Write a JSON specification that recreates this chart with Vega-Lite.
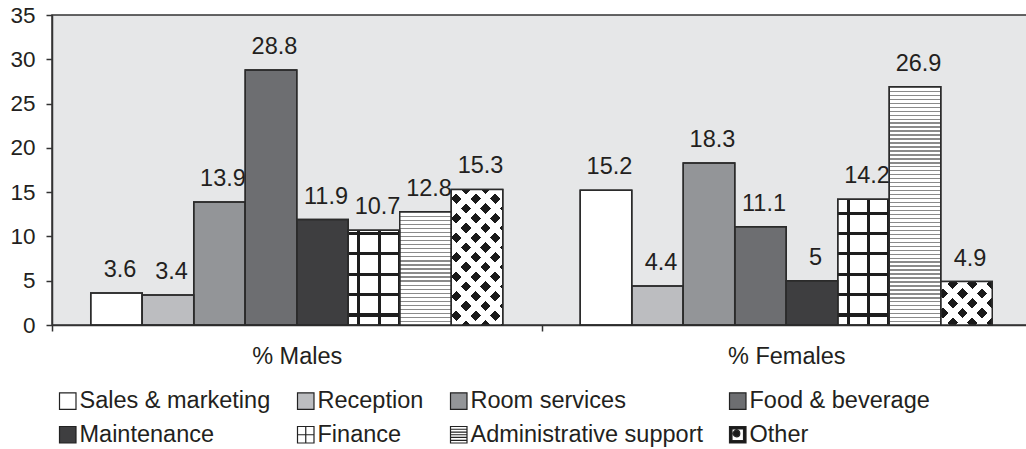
{
  "$schema": "https://vega.github.io/schema/vega-lite/v6.json",
  "width": 979,
  "height": 310,
  "autosize": {"type": "none"},
  "padding": {"left": 52, "top": 15, "right": -5, "bottom": 124},
  "background": "#ffffff",
  "config": {
    "font": "Liberation Sans",
    "view": {"fill": "#e6e7e8", "stroke": "#333333", "strokeWidth": 1.5},
    "axis": {"domainColor": "#333333", "domainWidth": 1.5, "tickColor": "#333333", "tickWidth": 1.5, "tickSize": 6, "labelColor": "#231f20", "labelFont": "Liberation Sans", "grid": false, "title": null}
  },
  "data": {
    "values": [
      {"group": "% Males", "category": "Sales & marketing", "value": 3.6},
      {"group": "% Males", "category": "Reception", "value": 3.4},
      {"group": "% Males", "category": "Room services", "value": 13.9},
      {"group": "% Males", "category": "Food & beverage", "value": 28.8},
      {"group": "% Males", "category": "Maintenance", "value": 11.9},
      {"group": "% Males", "category": "Finance", "value": 10.7},
      {"group": "% Males", "category": "Administrative support", "value": 12.8},
      {"group": "% Males", "category": "Other", "value": 15.3},
      {"group": "% Females", "category": "Sales & marketing", "value": 15.2},
      {"group": "% Females", "category": "Reception", "value": 4.4},
      {"group": "% Females", "category": "Room services", "value": 18.3},
      {"group": "% Females", "category": "Food & beverage", "value": 11.1},
      {"group": "% Females", "category": "Maintenance", "value": 5},
      {"group": "% Females", "category": "Finance", "value": 14.2},
      {"group": "% Females", "category": "Administrative support", "value": 26.9},
      {"group": "% Females", "category": "Other", "value": 4.9}
    ]
  },
  "encoding": {
    "x": {"field": "group", "type": "nominal", "scale": {"domain": ["% Males", "% Females"], "paddingInner": 0, "paddingOuter": 0},
      "axis": {"labelAngle": 0, "labelFontSize": 23.5, "labelPadding": 13, "tickBand": "extent"}},
    "xOffset": {"field": "category", "type": "nominal", "scale": {"domain": ["Sales & marketing", "Reception", "Room services", "Food & beverage", "Maintenance", "Finance", "Administrative support", "Other"], "paddingInner": 0, "paddingOuter": 0.7524}},
    "y": {"field": "value", "type": "quantitative", "scale": {"domain": [0, 35], "nice": false},
      "axis": {"values": [0, 5, 10, 15, 20, 25, 30, 35], "labelFontSize": 22.5, "labelPadding": 11}}
  },
  "layer": [
    {
      "mark": {"type": "point", "filled": true, "opacity": 1, "size": 272, "stroke": "#222222", "strokeWidth": 1.2, "yOffset": -10},
      "encoding": {
        "y": {"datum": 0},
        "color": {"field": "category", "type": "nominal", "title": null,
          "scale": {"domain": ["Sales & marketing", "Reception", "Room services", "Food & beverage", "Maintenance", "Finance", "Administrative support", "Other"],
            "range": ["#ffffff", "#bcbdc0", "#939598", "#6d6e71", "#3e3e40", "#ffffff", "#ffffff", "#1a1a1a"]},
          "legend": {"orient": "none", "legendX": 4, "legendY": 374, "direction": "horizontal", "columns": 4, "title": null, "labelFontSize": 23.5, "labelColor": "#231f20", "labelFont": "Liberation Sans", "labelOffset": 0, "columnPadding": 23, "rowPadding": 9, "symbolSize": 272, "symbolStrokeWidth": 1.2, "symbolStrokeColor": "#222222", "labelLimit": 0}},
        "shape": {"field": "category", "type": "nominal", "title": null,
          "scale": {"domain": ["Sales & marketing", "Reception", "Room services", "Food & beverage", "Maintenance", "Finance", "Administrative support", "Other"],
            "range": ["M-1,-1H1V1H-1Z", "M-1,-1H1V1H-1Z", "M-1,-1H1V1H-1Z", "M-1,-1H1V1H-1Z", "M-1,-1H1V1H-1Z", "M-1,-1H1V1H-1ZM0,-1V1M-1,0H1", "M-1,-1H1V1H-1ZM-1,-0.67H1M-1,-0.33H1M-1,0H1M-1,0.33H1M-1,0.67H1", "M-1,-1H1V1H-1ZM-0.7,-0.7V0.7H0.7V-0.7ZM-0.55,-0.15A0.4,0.4 0 1,1 0.25,-0.15A0.4,0.4 0 1,1 -0.55,-0.15Z"]},
          "legend": {"orient": "none", "legendX": 4, "legendY": 374, "direction": "horizontal", "columns": 4, "title": null, "labelFontSize": 23.5, "labelColor": "#231f20", "labelFont": "Liberation Sans", "labelOffset": 0, "columnPadding": 23, "rowPadding": 9, "symbolSize": 272, "symbolStrokeWidth": 1.2, "symbolStrokeColor": "#222222", "labelLimit": 0}}
      }
    },
    {
      "mark": {"type": "bar", "stroke": "#2b2b2b", "strokeWidth": 1.5},
      "encoding": {
        "fill": {"field": "category", "type": "nominal", "legend": null,
          "scale": {"domain": ["Sales & marketing", "Reception", "Room services", "Food & beverage", "Maintenance", "Finance", "Administrative support", "Other"],
            "range": ["#ffffff", "#bcbdc0", "#939598", "#6d6e71", "#3e3e40", "#ffffff", "#ffffff", "#1a1a1a"]}}
      }
    },
    {
      "transform": [{"filter": {"field": "category", "equal": "Finance"}}],
      "mark": {"type": "bar", "strokeWidth": 0, "fill": {"gradient": "linear", "x1": 0, "y1": 0, "x2": 1, "y2": 0, "stops": [
        {"offset": 0, "color": "rgba(0,0,0,0)"}, {"offset": 0.17, "color": "rgba(0,0,0,0)"}, {"offset": 0.17, "color": "#1e1e1e"}, {"offset": 0.23, "color": "#1e1e1e"},
        {"offset": 0.23, "color": "rgba(0,0,0,0)"}, {"offset": 0.57, "color": "rgba(0,0,0,0)"}, {"offset": 0.57, "color": "#1e1e1e"}, {"offset": 0.63, "color": "#1e1e1e"},
        {"offset": 0.63, "color": "rgba(0,0,0,0)"}, {"offset": 0.965, "color": "rgba(0,0,0,0)"}, {"offset": 0.965, "color": "#1e1e1e"}, {"offset": 1, "color": "#1e1e1e"}]}}
    },
    {
      "transform": [{"filter": {"and": [{"field": "category", "equal": "Finance"}, {"field": "group", "equal": "% Males"}]}}],
      "mark": {"type": "bar", "strokeWidth": 0, "fill": {"gradient": "linear", "x1": 0, "y1": 0, "x2": 0, "y2": 1, "stops": [
        {"offset": 0, "color": "rgba(0,0,0,0)"}, {"offset": 0.018, "color": "rgba(0,0,0,0)"}, {"offset": 0.018, "color": "#1e1e1e"}, {"offset": 0.05, "color": "#1e1e1e"},
        {"offset": 0.05, "color": "rgba(0,0,0,0)"}, {"offset": 0.233, "color": "rgba(0,0,0,0)"}, {"offset": 0.233, "color": "#1e1e1e"}, {"offset": 0.265, "color": "#1e1e1e"},
        {"offset": 0.265, "color": "rgba(0,0,0,0)"}, {"offset": 0.448, "color": "rgba(0,0,0,0)"}, {"offset": 0.448, "color": "#1e1e1e"}, {"offset": 0.48, "color": "#1e1e1e"},
        {"offset": 0.48, "color": "rgba(0,0,0,0)"}, {"offset": 0.663, "color": "rgba(0,0,0,0)"}, {"offset": 0.663, "color": "#1e1e1e"}, {"offset": 0.695, "color": "#1e1e1e"},
        {"offset": 0.695, "color": "rgba(0,0,0,0)"}, {"offset": 0.8785, "color": "rgba(0,0,0,0)"}, {"offset": 0.8785, "color": "#1e1e1e"}, {"offset": 0.9105, "color": "#1e1e1e"},
        {"offset": 0.9105, "color": "rgba(0,0,0,0)"}, {"offset": 1, "color": "rgba(0,0,0,0)"}]}}
    },
    {
      "transform": [{"filter": {"and": [{"field": "category", "equal": "Finance"}, {"field": "group", "equal": "% Females"}]}}],
      "mark": {"type": "bar", "strokeWidth": 0, "fill": {"gradient": "linear", "x1": 0, "y1": 0, "x2": 0, "y2": 1, "stops": [
        {"offset": 0, "color": "rgba(0,0,0,0)"}, {"offset": 0.0977, "color": "rgba(0,0,0,0)"}, {"offset": 0.0977, "color": "#1e1e1e"}, {"offset": 0.1217, "color": "#1e1e1e"},
        {"offset": 0.1217, "color": "rgba(0,0,0,0)"}, {"offset": 0.2599, "color": "rgba(0,0,0,0)"}, {"offset": 0.2599, "color": "#1e1e1e"}, {"offset": 0.2839, "color": "#1e1e1e"},
        {"offset": 0.2839, "color": "rgba(0,0,0,0)"}, {"offset": 0.422, "color": "rgba(0,0,0,0)"}, {"offset": 0.422, "color": "#1e1e1e"}, {"offset": 0.446, "color": "#1e1e1e"},
        {"offset": 0.446, "color": "rgba(0,0,0,0)"}, {"offset": 0.5842, "color": "rgba(0,0,0,0)"}, {"offset": 0.5842, "color": "#1e1e1e"}, {"offset": 0.6082, "color": "#1e1e1e"},
        {"offset": 0.6082, "color": "rgba(0,0,0,0)"}, {"offset": 0.7464, "color": "rgba(0,0,0,0)"}, {"offset": 0.7464, "color": "#1e1e1e"}, {"offset": 0.7704, "color": "#1e1e1e"},
        {"offset": 0.7704, "color": "rgba(0,0,0,0)"}, {"offset": 0.9085, "color": "rgba(0,0,0,0)"}, {"offset": 0.9085, "color": "#1e1e1e"}, {"offset": 0.9325, "color": "#1e1e1e"},
        {"offset": 0.9325, "color": "rgba(0,0,0,0)"}, {"offset": 1, "color": "rgba(0,0,0,0)"}]}}
    },
    {
      "transform": [{"filter": {"and": [{"field": "category", "equal": "Administrative support"}, {"field": "group", "equal": "% Males"}]}}],
      "mark": {"type": "bar", "strokeWidth": 0, "fill": {"gradient": "linear", "x1": 0, "y1": 0, "x2": 0, "y2": 1, "stops": [
        {"offset": 0, "color": "#8a8a8a"}, {"offset": 0.0115, "color": "#8a8a8a"}, {"offset": 0.0115, "color": "#ffffff"}, {"offset": 0.0357, "color": "#ffffff"},
        {"offset": 0.0357, "color": "#8a8a8a"}, {"offset": 0.0472, "color": "#8a8a8a"}, {"offset": 0.0472, "color": "#ffffff"}, {"offset": 0.0714, "color": "#ffffff"},
        {"offset": 0.0714, "color": "#8a8a8a"}, {"offset": 0.0829, "color": "#8a8a8a"}, {"offset": 0.0829, "color": "#ffffff"}, {"offset": 0.1071, "color": "#ffffff"},
        {"offset": 0.1071, "color": "#8a8a8a"}, {"offset": 0.1186, "color": "#8a8a8a"}, {"offset": 0.1186, "color": "#ffffff"}, {"offset": 0.1429, "color": "#ffffff"},
        {"offset": 0.1429, "color": "#8a8a8a"}, {"offset": 0.1544, "color": "#8a8a8a"}, {"offset": 0.1544, "color": "#ffffff"}, {"offset": 0.1786, "color": "#ffffff"},
        {"offset": 0.1786, "color": "#8a8a8a"}, {"offset": 0.1901, "color": "#8a8a8a"}, {"offset": 0.1901, "color": "#ffffff"}, {"offset": 0.2143, "color": "#ffffff"},
        {"offset": 0.2143, "color": "#8a8a8a"}, {"offset": 0.2258, "color": "#8a8a8a"}, {"offset": 0.2258, "color": "#ffffff"}, {"offset": 0.25, "color": "#ffffff"},
        {"offset": 0.25, "color": "#8a8a8a"}, {"offset": 0.2615, "color": "#8a8a8a"}, {"offset": 0.2615, "color": "#ffffff"}, {"offset": 0.2857, "color": "#ffffff"},
        {"offset": 0.2857, "color": "#8a8a8a"}, {"offset": 0.2972, "color": "#8a8a8a"}, {"offset": 0.2972, "color": "#ffffff"}, {"offset": 0.3214, "color": "#ffffff"},
        {"offset": 0.3214, "color": "#8a8a8a"}, {"offset": 0.3329, "color": "#8a8a8a"}, {"offset": 0.3329, "color": "#ffffff"}, {"offset": 0.3571, "color": "#ffffff"},
        {"offset": 0.3571, "color": "#8a8a8a"}, {"offset": 0.3686, "color": "#8a8a8a"}, {"offset": 0.3686, "color": "#ffffff"}, {"offset": 0.3929, "color": "#ffffff"},
        {"offset": 0.3929, "color": "#8a8a8a"}, {"offset": 0.4044, "color": "#8a8a8a"}, {"offset": 0.4044, "color": "#ffffff"}, {"offset": 0.4286, "color": "#ffffff"},
        {"offset": 0.4286, "color": "#8a8a8a"}, {"offset": 0.4401, "color": "#8a8a8a"}, {"offset": 0.4401, "color": "#ffffff"}, {"offset": 0.4643, "color": "#ffffff"},
        {"offset": 0.4643, "color": "#8a8a8a"}, {"offset": 0.4758, "color": "#8a8a8a"}, {"offset": 0.4758, "color": "#ffffff"}, {"offset": 0.5, "color": "#ffffff"},
        {"offset": 0.5, "color": "#8a8a8a"}, {"offset": 0.5115, "color": "#8a8a8a"}, {"offset": 0.5115, "color": "#ffffff"}, {"offset": 0.5357, "color": "#ffffff"},
        {"offset": 0.5357, "color": "#8a8a8a"}, {"offset": 0.5472, "color": "#8a8a8a"}, {"offset": 0.5472, "color": "#ffffff"}, {"offset": 0.5714, "color": "#ffffff"},
        {"offset": 0.5714, "color": "#8a8a8a"}, {"offset": 0.5829, "color": "#8a8a8a"}, {"offset": 0.5829, "color": "#ffffff"}, {"offset": 0.6071, "color": "#ffffff"},
        {"offset": 0.6071, "color": "#8a8a8a"}, {"offset": 0.6186, "color": "#8a8a8a"}, {"offset": 0.6186, "color": "#ffffff"}, {"offset": 0.6429, "color": "#ffffff"},
        {"offset": 0.6429, "color": "#8a8a8a"}, {"offset": 0.6544, "color": "#8a8a8a"}, {"offset": 0.6544, "color": "#ffffff"}, {"offset": 0.6786, "color": "#ffffff"},
        {"offset": 0.6786, "color": "#8a8a8a"}, {"offset": 0.6901, "color": "#8a8a8a"}, {"offset": 0.6901, "color": "#ffffff"}, {"offset": 0.7143, "color": "#ffffff"},
        {"offset": 0.7143, "color": "#8a8a8a"}, {"offset": 0.7258, "color": "#8a8a8a"}, {"offset": 0.7258, "color": "#ffffff"}, {"offset": 0.75, "color": "#ffffff"},
        {"offset": 0.75, "color": "#8a8a8a"}, {"offset": 0.7615, "color": "#8a8a8a"}, {"offset": 0.7615, "color": "#ffffff"}, {"offset": 0.7857, "color": "#ffffff"},
        {"offset": 0.7857, "color": "#8a8a8a"}, {"offset": 0.7972, "color": "#8a8a8a"}, {"offset": 0.7972, "color": "#ffffff"}, {"offset": 0.8214, "color": "#ffffff"},
        {"offset": 0.8214, "color": "#8a8a8a"}, {"offset": 0.8329, "color": "#8a8a8a"}, {"offset": 0.8329, "color": "#ffffff"}, {"offset": 0.8571, "color": "#ffffff"},
        {"offset": 0.8571, "color": "#8a8a8a"}, {"offset": 0.8686, "color": "#8a8a8a"}, {"offset": 0.8686, "color": "#ffffff"}, {"offset": 0.8929, "color": "#ffffff"},
        {"offset": 0.8929, "color": "#8a8a8a"}, {"offset": 0.9044, "color": "#8a8a8a"}, {"offset": 0.9044, "color": "#ffffff"}, {"offset": 0.9286, "color": "#ffffff"},
        {"offset": 0.9286, "color": "#8a8a8a"}, {"offset": 0.9401, "color": "#8a8a8a"}, {"offset": 0.9401, "color": "#ffffff"}, {"offset": 0.9643, "color": "#ffffff"},
        {"offset": 0.9643, "color": "#8a8a8a"}, {"offset": 0.9758, "color": "#8a8a8a"}, {"offset": 0.9758, "color": "#ffffff"}, {"offset": 1, "color": "#ffffff"}]}}
    },
    {
      "transform": [{"filter": {"and": [{"field": "category", "equal": "Administrative support"}, {"field": "group", "equal": "% Females"}]}}],
      "mark": {"type": "bar", "strokeWidth": 0, "fill": {"gradient": "linear", "x1": 0, "y1": 0, "x2": 0, "y2": 1, "stops": [
        {"offset": 0, "color": "#8a8a8a"}, {"offset": 0.0055, "color": "#8a8a8a"}, {"offset": 0.0055, "color": "#ffffff"}, {"offset": 0.0167, "color": "#ffffff"},
        {"offset": 0.0167, "color": "#8a8a8a"}, {"offset": 0.0222, "color": "#8a8a8a"}, {"offset": 0.0222, "color": "#ffffff"}, {"offset": 0.0333, "color": "#ffffff"},
        {"offset": 0.0333, "color": "#8a8a8a"}, {"offset": 0.0388, "color": "#8a8a8a"}, {"offset": 0.0388, "color": "#ffffff"}, {"offset": 0.05, "color": "#ffffff"},
        {"offset": 0.05, "color": "#8a8a8a"}, {"offset": 0.0555, "color": "#8a8a8a"}, {"offset": 0.0555, "color": "#ffffff"}, {"offset": 0.0667, "color": "#ffffff"},
        {"offset": 0.0667, "color": "#8a8a8a"}, {"offset": 0.0722, "color": "#8a8a8a"}, {"offset": 0.0722, "color": "#ffffff"}, {"offset": 0.0833, "color": "#ffffff"},
        {"offset": 0.0833, "color": "#8a8a8a"}, {"offset": 0.0888, "color": "#8a8a8a"}, {"offset": 0.0888, "color": "#ffffff"}, {"offset": 0.1, "color": "#ffffff"},
        {"offset": 0.1, "color": "#8a8a8a"}, {"offset": 0.1055, "color": "#8a8a8a"}, {"offset": 0.1055, "color": "#ffffff"}, {"offset": 0.1167, "color": "#ffffff"},
        {"offset": 0.1167, "color": "#8a8a8a"}, {"offset": 0.1222, "color": "#8a8a8a"}, {"offset": 0.1222, "color": "#ffffff"}, {"offset": 0.1333, "color": "#ffffff"},
        {"offset": 0.1333, "color": "#8a8a8a"}, {"offset": 0.1388, "color": "#8a8a8a"}, {"offset": 0.1388, "color": "#ffffff"}, {"offset": 0.15, "color": "#ffffff"},
        {"offset": 0.15, "color": "#8a8a8a"}, {"offset": 0.1555, "color": "#8a8a8a"}, {"offset": 0.1555, "color": "#ffffff"}, {"offset": 0.1667, "color": "#ffffff"},
        {"offset": 0.1667, "color": "#8a8a8a"}, {"offset": 0.1722, "color": "#8a8a8a"}, {"offset": 0.1722, "color": "#ffffff"}, {"offset": 0.1833, "color": "#ffffff"},
        {"offset": 0.1833, "color": "#8a8a8a"}, {"offset": 0.1888, "color": "#8a8a8a"}, {"offset": 0.1888, "color": "#ffffff"}, {"offset": 0.2, "color": "#ffffff"},
        {"offset": 0.2, "color": "#8a8a8a"}, {"offset": 0.2055, "color": "#8a8a8a"}, {"offset": 0.2055, "color": "#ffffff"}, {"offset": 0.2167, "color": "#ffffff"},
        {"offset": 0.2167, "color": "#8a8a8a"}, {"offset": 0.2222, "color": "#8a8a8a"}, {"offset": 0.2222, "color": "#ffffff"}, {"offset": 0.2333, "color": "#ffffff"},
        {"offset": 0.2333, "color": "#8a8a8a"}, {"offset": 0.2388, "color": "#8a8a8a"}, {"offset": 0.2388, "color": "#ffffff"}, {"offset": 0.25, "color": "#ffffff"},
        {"offset": 0.25, "color": "#8a8a8a"}, {"offset": 0.2555, "color": "#8a8a8a"}, {"offset": 0.2555, "color": "#ffffff"}, {"offset": 0.2667, "color": "#ffffff"},
        {"offset": 0.2667, "color": "#8a8a8a"}, {"offset": 0.2722, "color": "#8a8a8a"}, {"offset": 0.2722, "color": "#ffffff"}, {"offset": 0.2833, "color": "#ffffff"},
        {"offset": 0.2833, "color": "#8a8a8a"}, {"offset": 0.2888, "color": "#8a8a8a"}, {"offset": 0.2888, "color": "#ffffff"}, {"offset": 0.3, "color": "#ffffff"},
        {"offset": 0.3, "color": "#8a8a8a"}, {"offset": 0.3055, "color": "#8a8a8a"}, {"offset": 0.3055, "color": "#ffffff"}, {"offset": 0.3167, "color": "#ffffff"},
        {"offset": 0.3167, "color": "#8a8a8a"}, {"offset": 0.3222, "color": "#8a8a8a"}, {"offset": 0.3222, "color": "#ffffff"}, {"offset": 0.3333, "color": "#ffffff"},
        {"offset": 0.3333, "color": "#8a8a8a"}, {"offset": 0.3388, "color": "#8a8a8a"}, {"offset": 0.3388, "color": "#ffffff"}, {"offset": 0.35, "color": "#ffffff"},
        {"offset": 0.35, "color": "#8a8a8a"}, {"offset": 0.3555, "color": "#8a8a8a"}, {"offset": 0.3555, "color": "#ffffff"}, {"offset": 0.3667, "color": "#ffffff"},
        {"offset": 0.3667, "color": "#8a8a8a"}, {"offset": 0.3722, "color": "#8a8a8a"}, {"offset": 0.3722, "color": "#ffffff"}, {"offset": 0.3833, "color": "#ffffff"},
        {"offset": 0.3833, "color": "#8a8a8a"}, {"offset": 0.3888, "color": "#8a8a8a"}, {"offset": 0.3888, "color": "#ffffff"}, {"offset": 0.4, "color": "#ffffff"},
        {"offset": 0.4, "color": "#8a8a8a"}, {"offset": 0.4055, "color": "#8a8a8a"}, {"offset": 0.4055, "color": "#ffffff"}, {"offset": 0.4167, "color": "#ffffff"},
        {"offset": 0.4167, "color": "#8a8a8a"}, {"offset": 0.4222, "color": "#8a8a8a"}, {"offset": 0.4222, "color": "#ffffff"}, {"offset": 0.4333, "color": "#ffffff"},
        {"offset": 0.4333, "color": "#8a8a8a"}, {"offset": 0.4388, "color": "#8a8a8a"}, {"offset": 0.4388, "color": "#ffffff"}, {"offset": 0.45, "color": "#ffffff"},
        {"offset": 0.45, "color": "#8a8a8a"}, {"offset": 0.4555, "color": "#8a8a8a"}, {"offset": 0.4555, "color": "#ffffff"}, {"offset": 0.4667, "color": "#ffffff"},
        {"offset": 0.4667, "color": "#8a8a8a"}, {"offset": 0.4722, "color": "#8a8a8a"}, {"offset": 0.4722, "color": "#ffffff"}, {"offset": 0.4833, "color": "#ffffff"},
        {"offset": 0.4833, "color": "#8a8a8a"}, {"offset": 0.4888, "color": "#8a8a8a"}, {"offset": 0.4888, "color": "#ffffff"}, {"offset": 0.5, "color": "#ffffff"},
        {"offset": 0.5, "color": "#8a8a8a"}, {"offset": 0.5055, "color": "#8a8a8a"}, {"offset": 0.5055, "color": "#ffffff"}, {"offset": 0.5167, "color": "#ffffff"},
        {"offset": 0.5167, "color": "#8a8a8a"}, {"offset": 0.5222, "color": "#8a8a8a"}, {"offset": 0.5222, "color": "#ffffff"}, {"offset": 0.5333, "color": "#ffffff"},
        {"offset": 0.5333, "color": "#8a8a8a"}, {"offset": 0.5388, "color": "#8a8a8a"}, {"offset": 0.5388, "color": "#ffffff"}, {"offset": 0.55, "color": "#ffffff"},
        {"offset": 0.55, "color": "#8a8a8a"}, {"offset": 0.5555, "color": "#8a8a8a"}, {"offset": 0.5555, "color": "#ffffff"}, {"offset": 0.5667, "color": "#ffffff"},
        {"offset": 0.5667, "color": "#8a8a8a"}, {"offset": 0.5722, "color": "#8a8a8a"}, {"offset": 0.5722, "color": "#ffffff"}, {"offset": 0.5833, "color": "#ffffff"},
        {"offset": 0.5833, "color": "#8a8a8a"}, {"offset": 0.5888, "color": "#8a8a8a"}, {"offset": 0.5888, "color": "#ffffff"}, {"offset": 0.6, "color": "#ffffff"},
        {"offset": 0.6, "color": "#8a8a8a"}, {"offset": 0.6055, "color": "#8a8a8a"}, {"offset": 0.6055, "color": "#ffffff"}, {"offset": 0.6167, "color": "#ffffff"},
        {"offset": 0.6167, "color": "#8a8a8a"}, {"offset": 0.6222, "color": "#8a8a8a"}, {"offset": 0.6222, "color": "#ffffff"}, {"offset": 0.6333, "color": "#ffffff"},
        {"offset": 0.6333, "color": "#8a8a8a"}, {"offset": 0.6388, "color": "#8a8a8a"}, {"offset": 0.6388, "color": "#ffffff"}, {"offset": 0.65, "color": "#ffffff"},
        {"offset": 0.65, "color": "#8a8a8a"}, {"offset": 0.6555, "color": "#8a8a8a"}, {"offset": 0.6555, "color": "#ffffff"}, {"offset": 0.6667, "color": "#ffffff"},
        {"offset": 0.6667, "color": "#8a8a8a"}, {"offset": 0.6722, "color": "#8a8a8a"}, {"offset": 0.6722, "color": "#ffffff"}, {"offset": 0.6833, "color": "#ffffff"},
        {"offset": 0.6833, "color": "#8a8a8a"}, {"offset": 0.6888, "color": "#8a8a8a"}, {"offset": 0.6888, "color": "#ffffff"}, {"offset": 0.7, "color": "#ffffff"},
        {"offset": 0.7, "color": "#8a8a8a"}, {"offset": 0.7055, "color": "#8a8a8a"}, {"offset": 0.7055, "color": "#ffffff"}, {"offset": 0.7167, "color": "#ffffff"},
        {"offset": 0.7167, "color": "#8a8a8a"}, {"offset": 0.7222, "color": "#8a8a8a"}, {"offset": 0.7222, "color": "#ffffff"}, {"offset": 0.7333, "color": "#ffffff"},
        {"offset": 0.7333, "color": "#8a8a8a"}, {"offset": 0.7388, "color": "#8a8a8a"}, {"offset": 0.7388, "color": "#ffffff"}, {"offset": 0.75, "color": "#ffffff"},
        {"offset": 0.75, "color": "#8a8a8a"}, {"offset": 0.7555, "color": "#8a8a8a"}, {"offset": 0.7555, "color": "#ffffff"}, {"offset": 0.7667, "color": "#ffffff"},
        {"offset": 0.7667, "color": "#8a8a8a"}, {"offset": 0.7722, "color": "#8a8a8a"}, {"offset": 0.7722, "color": "#ffffff"}, {"offset": 0.7833, "color": "#ffffff"},
        {"offset": 0.7833, "color": "#8a8a8a"}, {"offset": 0.7888, "color": "#8a8a8a"}, {"offset": 0.7888, "color": "#ffffff"}, {"offset": 0.8, "color": "#ffffff"},
        {"offset": 0.8, "color": "#8a8a8a"}, {"offset": 0.8055, "color": "#8a8a8a"}, {"offset": 0.8055, "color": "#ffffff"}, {"offset": 0.8167, "color": "#ffffff"},
        {"offset": 0.8167, "color": "#8a8a8a"}, {"offset": 0.8222, "color": "#8a8a8a"}, {"offset": 0.8222, "color": "#ffffff"}, {"offset": 0.8333, "color": "#ffffff"},
        {"offset": 0.8333, "color": "#8a8a8a"}, {"offset": 0.8388, "color": "#8a8a8a"}, {"offset": 0.8388, "color": "#ffffff"}, {"offset": 0.85, "color": "#ffffff"},
        {"offset": 0.85, "color": "#8a8a8a"}, {"offset": 0.8555, "color": "#8a8a8a"}, {"offset": 0.8555, "color": "#ffffff"}, {"offset": 0.8667, "color": "#ffffff"},
        {"offset": 0.8667, "color": "#8a8a8a"}, {"offset": 0.8722, "color": "#8a8a8a"}, {"offset": 0.8722, "color": "#ffffff"}, {"offset": 0.8833, "color": "#ffffff"},
        {"offset": 0.8833, "color": "#8a8a8a"}, {"offset": 0.8888, "color": "#8a8a8a"}, {"offset": 0.8888, "color": "#ffffff"}, {"offset": 0.9, "color": "#ffffff"},
        {"offset": 0.9, "color": "#8a8a8a"}, {"offset": 0.9055, "color": "#8a8a8a"}, {"offset": 0.9055, "color": "#ffffff"}, {"offset": 0.9167, "color": "#ffffff"},
        {"offset": 0.9167, "color": "#8a8a8a"}, {"offset": 0.9222, "color": "#8a8a8a"}, {"offset": 0.9222, "color": "#ffffff"}, {"offset": 0.9333, "color": "#ffffff"},
        {"offset": 0.9333, "color": "#8a8a8a"}, {"offset": 0.9388, "color": "#8a8a8a"}, {"offset": 0.9388, "color": "#ffffff"}, {"offset": 0.95, "color": "#ffffff"},
        {"offset": 0.95, "color": "#8a8a8a"}, {"offset": 0.9555, "color": "#8a8a8a"}, {"offset": 0.9555, "color": "#ffffff"}, {"offset": 0.9667, "color": "#ffffff"},
        {"offset": 0.9667, "color": "#8a8a8a"}, {"offset": 0.9722, "color": "#8a8a8a"}, {"offset": 0.9722, "color": "#ffffff"}, {"offset": 0.9833, "color": "#ffffff"},
        {"offset": 0.9833, "color": "#8a8a8a"}, {"offset": 0.9888, "color": "#8a8a8a"}, {"offset": 0.9888, "color": "#ffffff"}, {"offset": 1, "color": "#ffffff"}]}}
    },
    {
      "transform": [{"filter": {"and": [{"field": "category", "equal": "Other"}, {"field": "group", "equal": "% Males"}]}}],
      "mark": {"type": "bar", "strokeWidth": 0, "fill": {"gradient": "linear", "x1": 0, "y1": 0, "x2": 0.4586, "y2": 1.206, "stops": [
        {"offset": 0, "color": "#ffffff"}, {"offset": 0.0482, "color": "#ffffff"}, {"offset": 0.0482, "color": "rgba(255,255,255,0)"}, {"offset": 0.1044, "color": "rgba(255,255,255,0)"},
        {"offset": 0.1044, "color": "#ffffff"}, {"offset": 0.1526, "color": "#ffffff"}, {"offset": 0.1526, "color": "rgba(255,255,255,0)"}, {"offset": 0.2088, "color": "rgba(255,255,255,0)"},
        {"offset": 0.2088, "color": "#ffffff"}, {"offset": 0.257, "color": "#ffffff"}, {"offset": 0.257, "color": "rgba(255,255,255,0)"}, {"offset": 0.3132, "color": "rgba(255,255,255,0)"},
        {"offset": 0.3132, "color": "#ffffff"}, {"offset": 0.3614, "color": "#ffffff"}, {"offset": 0.3614, "color": "rgba(255,255,255,0)"}, {"offset": 0.4176, "color": "rgba(255,255,255,0)"},
        {"offset": 0.4176, "color": "#ffffff"}, {"offset": 0.4658, "color": "#ffffff"}, {"offset": 0.4658, "color": "rgba(255,255,255,0)"}, {"offset": 0.522, "color": "rgba(255,255,255,0)"},
        {"offset": 0.522, "color": "#ffffff"}, {"offset": 0.5702, "color": "#ffffff"}, {"offset": 0.5702, "color": "rgba(255,255,255,0)"}, {"offset": 0.6264, "color": "rgba(255,255,255,0)"},
        {"offset": 0.6264, "color": "#ffffff"}, {"offset": 0.6746, "color": "#ffffff"}, {"offset": 0.6746, "color": "rgba(255,255,255,0)"}, {"offset": 0.7308, "color": "rgba(255,255,255,0)"},
        {"offset": 0.7308, "color": "#ffffff"}, {"offset": 0.779, "color": "#ffffff"}, {"offset": 0.779, "color": "rgba(255,255,255,0)"}, {"offset": 0.8352, "color": "rgba(255,255,255,0)"},
        {"offset": 0.8352, "color": "#ffffff"}, {"offset": 0.8834, "color": "#ffffff"}, {"offset": 0.8834, "color": "rgba(255,255,255,0)"}, {"offset": 0.9396, "color": "rgba(255,255,255,0)"},
        {"offset": 0.9396, "color": "#ffffff"}, {"offset": 0.9878, "color": "#ffffff"}, {"offset": 0.9878, "color": "rgba(255,255,255,0)"}, {"offset": 1, "color": "rgba(255,255,255,0)"}]}}
    },
    {
      "transform": [{"filter": {"and": [{"field": "category", "equal": "Other"}, {"field": "group", "equal": "% Males"}]}}],
      "mark": {"type": "bar", "strokeWidth": 0, "fill": {"gradient": "linear", "x1": 0, "y1": 1, "x2": 0.4586, "y2": -0.206, "stops": [
        {"offset": 0, "color": "#ffffff"}, {"offset": 0.0482, "color": "#ffffff"}, {"offset": 0.0482, "color": "rgba(255,255,255,0)"}, {"offset": 0.1044, "color": "rgba(255,255,255,0)"},
        {"offset": 0.1044, "color": "#ffffff"}, {"offset": 0.1526, "color": "#ffffff"}, {"offset": 0.1526, "color": "rgba(255,255,255,0)"}, {"offset": 0.2088, "color": "rgba(255,255,255,0)"},
        {"offset": 0.2088, "color": "#ffffff"}, {"offset": 0.257, "color": "#ffffff"}, {"offset": 0.257, "color": "rgba(255,255,255,0)"}, {"offset": 0.3132, "color": "rgba(255,255,255,0)"},
        {"offset": 0.3132, "color": "#ffffff"}, {"offset": 0.3614, "color": "#ffffff"}, {"offset": 0.3614, "color": "rgba(255,255,255,0)"}, {"offset": 0.4176, "color": "rgba(255,255,255,0)"},
        {"offset": 0.4176, "color": "#ffffff"}, {"offset": 0.4658, "color": "#ffffff"}, {"offset": 0.4658, "color": "rgba(255,255,255,0)"}, {"offset": 0.522, "color": "rgba(255,255,255,0)"},
        {"offset": 0.522, "color": "#ffffff"}, {"offset": 0.5702, "color": "#ffffff"}, {"offset": 0.5702, "color": "rgba(255,255,255,0)"}, {"offset": 0.6264, "color": "rgba(255,255,255,0)"},
        {"offset": 0.6264, "color": "#ffffff"}, {"offset": 0.6746, "color": "#ffffff"}, {"offset": 0.6746, "color": "rgba(255,255,255,0)"}, {"offset": 0.7308, "color": "rgba(255,255,255,0)"},
        {"offset": 0.7308, "color": "#ffffff"}, {"offset": 0.779, "color": "#ffffff"}, {"offset": 0.779, "color": "rgba(255,255,255,0)"}, {"offset": 0.8352, "color": "rgba(255,255,255,0)"},
        {"offset": 0.8352, "color": "#ffffff"}, {"offset": 0.8834, "color": "#ffffff"}, {"offset": 0.8834, "color": "rgba(255,255,255,0)"}, {"offset": 0.9396, "color": "rgba(255,255,255,0)"},
        {"offset": 0.9396, "color": "#ffffff"}, {"offset": 0.9878, "color": "#ffffff"}, {"offset": 0.9878, "color": "rgba(255,255,255,0)"}, {"offset": 1, "color": "rgba(255,255,255,0)"}]}}
    },
    {
      "transform": [{"filter": {"and": [{"field": "category", "equal": "Other"}, {"field": "group", "equal": "% Females"}]}}],
      "mark": {"type": "bar", "strokeWidth": 0, "fill": {"gradient": "linear", "x1": 0, "y1": 0, "x2": 1.0777, "y2": 0.9077, "stops": [
        {"offset": 0, "color": "#ffffff"}, {"offset": 0.0948, "color": "#ffffff"}, {"offset": 0.0948, "color": "rgba(255,255,255,0)"}, {"offset": 0.2054, "color": "rgba(255,255,255,0)"},
        {"offset": 0.2054, "color": "#ffffff"}, {"offset": 0.3002, "color": "#ffffff"}, {"offset": 0.3002, "color": "rgba(255,255,255,0)"}, {"offset": 0.4108, "color": "rgba(255,255,255,0)"},
        {"offset": 0.4108, "color": "#ffffff"}, {"offset": 0.5056, "color": "#ffffff"}, {"offset": 0.5056, "color": "rgba(255,255,255,0)"}, {"offset": 0.6162, "color": "rgba(255,255,255,0)"},
        {"offset": 0.6162, "color": "#ffffff"}, {"offset": 0.711, "color": "#ffffff"}, {"offset": 0.711, "color": "rgba(255,255,255,0)"}, {"offset": 0.8216, "color": "rgba(255,255,255,0)"},
        {"offset": 0.8216, "color": "#ffffff"}, {"offset": 0.9164, "color": "#ffffff"}, {"offset": 0.9164, "color": "rgba(255,255,255,0)"}, {"offset": 1, "color": "rgba(255,255,255,0)"}]}}
    },
    {
      "transform": [{"filter": {"and": [{"field": "category", "equal": "Other"}, {"field": "group", "equal": "% Females"}]}}],
      "mark": {"type": "bar", "strokeWidth": 0, "fill": {"gradient": "linear", "x1": 0, "y1": 1, "x2": 1.0777, "y2": 0.0923, "stops": [
        {"offset": 0, "color": "#ffffff"}, {"offset": 0.0948, "color": "#ffffff"}, {"offset": 0.0948, "color": "rgba(255,255,255,0)"}, {"offset": 0.2054, "color": "rgba(255,255,255,0)"},
        {"offset": 0.2054, "color": "#ffffff"}, {"offset": 0.3002, "color": "#ffffff"}, {"offset": 0.3002, "color": "rgba(255,255,255,0)"}, {"offset": 0.4108, "color": "rgba(255,255,255,0)"},
        {"offset": 0.4108, "color": "#ffffff"}, {"offset": 0.5056, "color": "#ffffff"}, {"offset": 0.5056, "color": "rgba(255,255,255,0)"}, {"offset": 0.6162, "color": "rgba(255,255,255,0)"},
        {"offset": 0.6162, "color": "#ffffff"}, {"offset": 0.711, "color": "#ffffff"}, {"offset": 0.711, "color": "rgba(255,255,255,0)"}, {"offset": 0.8216, "color": "rgba(255,255,255,0)"},
        {"offset": 0.8216, "color": "#ffffff"}, {"offset": 0.9164, "color": "#ffffff"}, {"offset": 0.9164, "color": "rgba(255,255,255,0)"}, {"offset": 1, "color": "rgba(255,255,255,0)"}]}}
    },
    {
      "mark": {"type": "bar", "fillOpacity": 0, "stroke": "#2b2b2b", "strokeWidth": 1.5}
    },
    {
      "mark": {"type": "text", "baseline": "alphabetic", "dy": -16, "dx": 3.5, "fontSize": 23.5, "fill": "#231f20", "font": "Liberation Sans"},
      "encoding": {"text": {"field": "value", "type": "quantitative"}}
    }
  ]
}
